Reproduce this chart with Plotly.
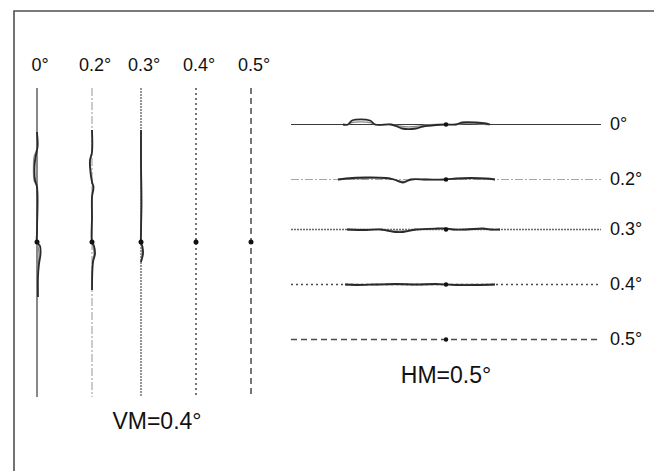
import plotly.graph_objects as go

# ---------------- data ----------------
conditions = ["0°", "0.2°", "0.3°", "0.4°", "0.5°"]
vm_title = "VM=0.4°"
hm_title = "HM=0.5°"

# Vertical-meridian (left panel) eye traces: position along line (px from centre,
# negative = up) and horizontal offset from the guide line.
vm_along = {
    "0°":   [-110, -95, -85, -75, -62, -55, -10, 0, 4, 12, 22, 35, 55],
    "0.2°": [-112, -90, -82, -75, -60, -55, -45, -25, 0, 4, 12, 20, 48],
    "0.3°": [-112, -80, -40, -10, 0, 5, 12, 20],
}
vm_off_a = {
    "0°":   [0, 0.5, -1.5, -2.5, -2, 0, 0, 0, 3, 3.5, 2, 1, 1],
    "0.2°": [0, 0, -2, -2, 0, 1.5, 0, 0, 0, 2, 3, 1, 0],
    "0.3°": [0, 0, 0.5, 0, 0, 1.5, 2, 0],
}
vm_off_b = {
    "0°":   [0, 0.5, -3, -3.5, -3, 0, 0, 0, 1, 2, 1.5, 0.5, 0],
    "0.2°": [0, 0, -1.5, -1.5, 0, 1, 0, 0, 0, 1, 2, 0.5, 0],
    "0.3°": [0, 0, 0, 0, 0, 1, 1, 0],
}

# Horizontal-meridian (right panel) eye traces: position along line (px from centre)
# and vertical offset (negative = up).
hm_along = {
    "0°":   [-103, -98, -94, -76, -71, -55, -49, -44, -30, -23, -10, 0, 10, 16, 30, 40, 44],
    "0.2°": [-108, -100, -80, -60, -52, -43, -35, -20, 0, 10, 25, 40, 49],
    "0.3°": [-99, -80, -65, -59, -50, -43, -30, -9, 0, 7, 20, 37, 45, 54],
    "0.4°": [-101, -90, -70, -50, -30, -10, 0, 10, 30, 49],
}
hm_off_a = {
    "0°":   [0, 0, -4, -4, 0, 0, 2, 4, 4, 2, 0.5, 0, 0, -2, -2, -1, 0],
    "0.2°": [0, -1, -2, -1.5, 0, 3, 0, 0, 0, -1, -1.5, -1, 0],
    "0.3°": [0, 0.5, 0, 1, 2.5, 2.5, 0, -1, -1, 0, 0, -1, 0, 0],
    "0.4°": [0, 0.5, 0, -0.5, 0, -0.5, 0, 0.5, 0.5, 0],
}
hm_off_b = {
    "0°":   [0, 0, -2, -2, 0, 0, 1, 2, 2, 1, 0, 0, 0, -1, -1, 0, 0],
    "0.2°": [0, -0.5, -1, -1, 0, 2, 0, 0, 0, -0.5, -1, -0.5, 0],
    "0.3°": [0, 0, 0, 0.5, 1.5, 1.5, 0, -0.5, -0.5, 0, 0, -0.5, 0, 0],
    "0.4°": [0, 0, 0, 0, 0, 0, 0, 0, 0, 0],
}

# ---------------- layout constants ----------------
W, H = 662, 471
PAD = 8  # page body margin compensation
vm_x = [37, 92, 141, 196, 251]
vm_top, vm_bot, vm_c = 88, 397, 242
hm_y = [124.5, 179.5, 229.5, 284.5, 339.5]
hm_left, hm_right, hm_c = 291, 601, 446

styles = [
    dict(color="#3a3a3a", width=1.2, dash="solid"),
    dict(color="#a8a8a8", width=1.2, dash="8px,2px,2px,2px"),
    dict(color="#6a6a6a", width=1.4, dash="2px,1px"),
    dict(color="#4a4a4a", width=1.5, dash="2px,3px"),
    dict(color="#4a4a4a", width=1.5, dash="6px,4px"),
]

fig = go.Figure()

# border
fig.add_trace(go.Scatter(x=[14, 14, 659.5], y=[H + 20, 11, 11], mode="lines",
                         line=dict(color="#505050", width=1.6), hoverinfo="skip"))
fig.add_trace(go.Scatter(x=[659.5, 659.5], y=[11, H + 20], mode="lines",
                         line=dict(color="#8a8a8a", width=2.5), hoverinfo="skip"))

for i, c in enumerate(conditions):
    st = styles[i]
    fig.add_trace(go.Scatter(x=[vm_x[i], vm_x[i]], y=[vm_top, vm_bot], mode="lines",
                             line=st, hoverinfo="skip"))
    fig.add_trace(go.Scatter(x=[hm_left, hm_right], y=[hm_y[i], hm_y[i]], mode="lines",
                             line=st, hoverinfo="skip"))
    if c in vm_along:
        al = vm_along[c]
        fig.add_trace(go.Scatter(x=[vm_x[i] + o for o in vm_off_b[c]],
                                 y=[vm_c + a for a in al], mode="lines",
                                 line=dict(color="#8c8c8c", width=1.3, shape="spline"),
                                 hoverinfo="skip"))
        fig.add_trace(go.Scatter(x=[vm_x[i] + o for o in vm_off_a[c]],
                                 y=[vm_c + a for a in al], mode="lines",
                                 line=dict(color="#2a2a2a", width=1.8, shape="spline"),
                                 hoverinfo="skip"))
    if c in hm_along:
        al = hm_along[c]
        fig.add_trace(go.Scatter(x=[hm_c + a for a in al],
                                 y=[hm_y[i] + o for o in hm_off_b[c]], mode="lines",
                                 line=dict(color="#8c8c8c", width=1.3, shape="spline"),
                                 hoverinfo="skip"))
        fig.add_trace(go.Scatter(x=[hm_c + a for a in al],
                                 y=[hm_y[i] + o for o in hm_off_a[c]], mode="lines",
                                 line=dict(color="#2a2a2a", width=1.8, shape="spline"),
                                 hoverinfo="skip"))

# centre dots
fig.add_trace(go.Scatter(x=vm_x, y=[vm_c] * 5, mode="markers",
                         marker=dict(color="#111", size=5), hoverinfo="skip"))
fig.add_trace(go.Scatter(x=[hm_c] * 5, y=hm_y, mode="markers",
                         marker=dict(color="#111", size=4.5), hoverinfo="skip"))

# labels
font_lbl = dict(family="Liberation Sans, Arial", size=18, color="#111")
fig.add_trace(go.Scatter(x=[v + 3 for v in vm_x], y=[66] * 5, mode="text", text=conditions,
                         textfont=font_lbl, textposition="middle center", hoverinfo="skip"))
fig.add_trace(go.Scatter(x=[610] * 5, y=[v + 1 for v in hm_y], mode="text", text=conditions,
                         textfont=font_lbl, textposition="middle right", hoverinfo="skip"))
fig.add_trace(go.Scatter(x=[157, 446], y=[423, 377], mode="text", text=[vm_title, hm_title],
                         textfont=dict(family="Liberation Sans, Arial", size=23, color="#111"),
                         textposition="middle center", hoverinfo="skip"))

fig.update_layout(
    width=W, height=H, margin=dict(l=0, r=0, t=0, b=0),
    paper_bgcolor="white", plot_bgcolor="white", showlegend=False,
    xaxis=dict(range=[PAD, W + PAD], visible=False, fixedrange=True),
    yaxis=dict(range=[H + PAD, PAD], visible=False, fixedrange=True),
)
fig.write_html("out.html")
